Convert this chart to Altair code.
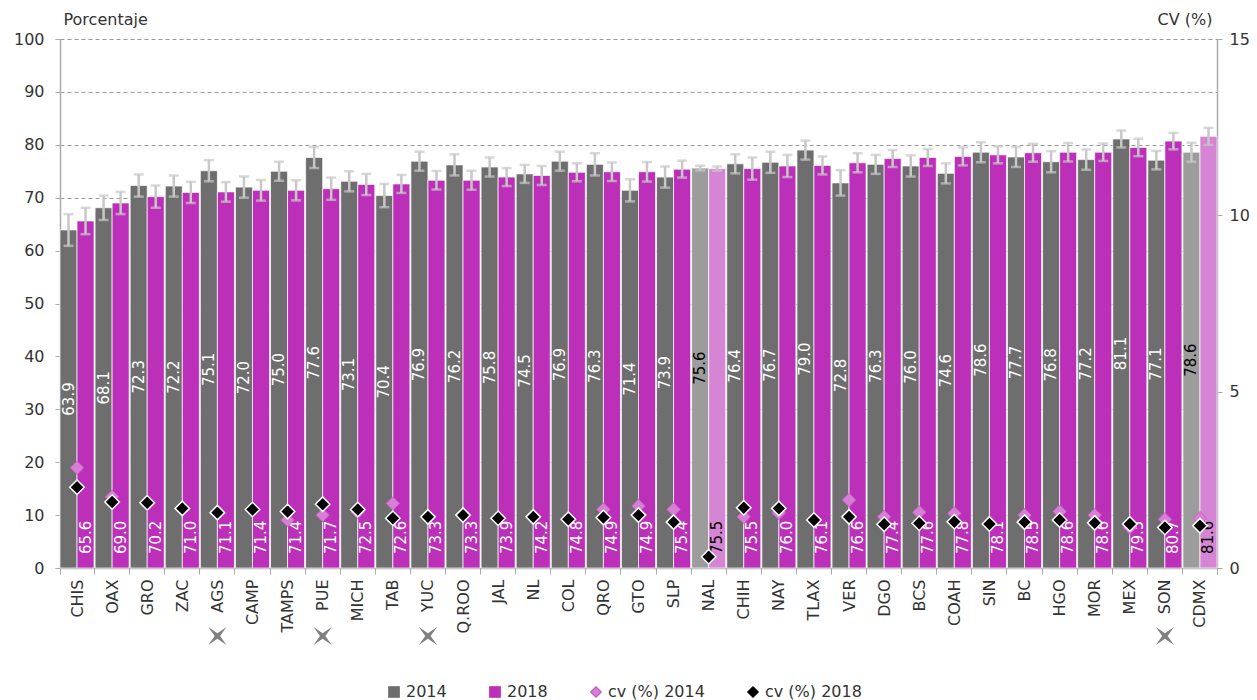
import altair as alt
import pandas as pd

FONT = "DejaVu Sans"

states = ["CHIS", "OAX", "GRO", "ZAC", "AGS", "CAMP", "TAMPS", "PUE", "MICH", "TAB",
          "YUC", "Q.ROO", "JAL", "NL", "COL", "QRO", "GTO", "SLP", "NAL", "CHIH",
          "NAY", "TLAX", "VER", "DGO", "BCS", "COAH", "SIN", "BC", "HGO", "MOR",
          "MEX", "SON", "CDMX"]

v2014 = [63.9, 68.1, 72.3, 72.2, 75.1, 72.0, 75.0, 77.6, 73.1, 70.4,
         76.9, 76.2, 75.8, 74.5, 76.9, 76.3, 71.4, 73.9, 75.6, 76.4,
         76.7, 79.0, 72.8, 76.3, 76.0, 74.6, 78.6, 77.7, 76.8, 77.2,
         81.1, 77.1, 78.6]

v2018 = [65.6, 69.0, 70.2, 71.0, 71.1, 71.4, 71.4, 71.7, 72.5, 72.6,
         73.3, 73.3, 73.9, 74.2, 74.8, 74.9, 74.9, 75.4, 75.5, 75.5,
         76.0, 76.1, 76.6, 77.4, 77.6, 77.8, 78.1, 78.5, 78.6, 78.6,
         79.5, 80.7, 81.6]

# half-width of the error bars
err2014 = [3.0, 2.3, 2.1, 2.0, 2.0, 2.0, 1.8, 2.0, 1.9, 2.2,
           1.8, 2.0, 1.8, 1.7, 1.8, 2.1, 2.1, 2.0, 0.45, 1.8,
           2.0, 1.8, 2.4, 1.8, 2.0, 1.9, 1.9, 1.9, 2.0, 1.9,
           1.6, 1.75, 1.8]

err2018 = [2.5, 2.1, 2.1, 2.0, 1.85, 1.95, 1.9, 2.1, 2.0, 1.7,
           1.75, 1.8, 1.7, 1.8, 1.7, 1.75, 1.85, 1.6, 0.4, 2.1,
           2.1, 1.7, 1.8, 1.6, 1.6, 1.7, 1.6, 1.7, 1.75, 1.65,
           1.65, 1.55, 1.6]

cv2014 = [2.84, 2.02, 1.80, 1.69, 1.57, 1.66, 1.36, 1.50, 1.59, 1.83,
          1.45, 1.50, 1.41, 1.45, 1.38, 1.66, 1.76, 1.66, 0.32, 1.45,
          1.56, 1.38, 1.93, 1.45, 1.58, 1.55, 1.25, 1.50, 1.60, 1.50,
          1.15, 1.38, 1.41]

cv2018 = [2.29, 1.87, 1.85, 1.69, 1.57, 1.66, 1.60, 1.81, 1.66, 1.41,
          1.45, 1.50, 1.41, 1.45, 1.38, 1.43, 1.50, 1.30, 0.32, 1.71,
          1.69, 1.36, 1.45, 1.24, 1.27, 1.31, 1.25, 1.30, 1.36, 1.28,
          1.25, 1.15, 1.20]

highlight = ["NAL", "CDMX"]
flagged = ["AGS", "PUE", "YUC", "SON"]

legend_series = ["2014", "2018", "cv (%) 2014", "cv (%) 2018"]

C_2014 = "#6e6e6e"
C_2018 = "#bc2fb8"
C_2014H = "#9c9c9c"
C_2018H = "#d684d4"
C_CV14 = "#d67fd4"
C_ERR = "#c8c8c8"
C_TXT = "#333333"

rows = []
for i, s in enumerate(states):
    hl = s in highlight
    rows.append(dict(state=s, year="2014", value=v2014[i], err=err2014[i],
                     grupo="2014h" if hl else "2014", lc="black" if hl else "white"))
    rows.append(dict(state=s, year="2018", value=v2018[i], err=err2018[i],
                     grupo="2018h" if hl else "2018", lc="black" if hl else "white"))
bars_df = pd.DataFrame(rows)
cv_df = pd.DataFrame(dict(state=states, cv14=cv2014, cv18=cv2018))
flag_df = pd.DataFrame(dict(state=flagged))
legend_df = pd.DataFrame(dict(serie=legend_series))

x_enc = alt.X("state:N", sort=states,
              scale=alt.Scale(paddingInner=0.03, paddingOuter=0),
              axis=alt.Axis(title=None, labelAngle=270, labelAlign="right",
                            labelBaseline="middle", labelFontSize=16,
                            labelColor=C_TXT, labelPadding=5,
                            tickBand="extent", tickSize=6, tickColor="#aaaaaa",
                            domainColor="#aaaaaa", domainWidth=1.5, grid=False))
xo_enc = alt.XOffset("year:N", sort=["2014", "2018"],
                     scale=alt.Scale(paddingInner=0, paddingOuter=0))

yscale = alt.Scale(domain=[0, 100], nice=False)
YT = "Porcentaje"

base = alt.Chart(bars_df).transform_calculate(
    lo="datum.value - datum.err",
    hi="datum.value + datum.err",
    mid="datum.value / 2",
)

bars = base.mark_bar(stroke="white", strokeWidth=0.7).encode(
    x=x_enc,
    xOffset=xo_enc,
    y=alt.Y("value:Q", scale=yscale, title=YT,
            axis=alt.Axis(orient="left", values=list(range(0, 101, 10)),
                          titleAngle=0, titleX=3, titleY=-20, titleAlign="left",
                          titleBaseline="middle", titleFontSize=16,
                          titleFontWeight="normal", titleColor=C_TXT,
                          labelFontSize=16, labelColor=C_TXT, labelPadding=11,
                          tickSize=5, tickColor="#aaaaaa", domainColor="#aaaaaa",
                          domainWidth=1.5, grid=True, gridDash=[4, 3],
                          gridColor="#9a9a9a", gridWidth=1)),
    color=alt.Color("grupo:N",
                    scale=alt.Scale(domain=["2014", "2018", "2014h", "2018h"],
                                    range=[C_2014, C_2018, C_2014H, C_2018H]),
                    legend=None),
)

err_rule = base.mark_rule(color=C_ERR, strokeWidth=2.5).encode(
    x=x_enc, xOffset=xo_enc,
    y=alt.Y("lo:Q", scale=yscale, title=YT), y2="hi:Q",
)
cap_lo = base.mark_tick(color=C_ERR, thickness=2.5, size=10).encode(
    x=x_enc, xOffset=xo_enc, y=alt.Y("lo:Q", scale=yscale, title=YT))
cap_hi = base.mark_tick(color=C_ERR, thickness=2.5, size=10).encode(
    x=x_enc, xOffset=xo_enc, y=alt.Y("hi:Q", scale=yscale, title=YT))

lab14 = base.transform_filter("datum.year == '2014'").mark_text(
    angle=270, align="center", baseline="middle", fontSize=15, font=FONT
).encode(
    x=x_enc, xOffset=xo_enc,
    y=alt.Y("mid:Q", scale=yscale, title=YT),
    text=alt.Text("value:Q", format=".1f"),
    color=alt.Color("lc:N", scale=None),
)

lab18 = base.transform_filter("datum.year == '2018'").mark_text(
    angle=270, align="left", baseline="middle", fontSize=15, font=FONT, dx=14
).encode(
    x=x_enc, xOffset=xo_enc,
    y=alt.Y(datum=0, type="quantitative", scale=yscale, title=YT),
    text=alt.Text("value:Q", format=".1f"),
    color=alt.Color("lc:N", scale=None),
)

xstar = "M-1,-1L0,-0.3L1,-1L0.3,0L1,1L0,0.3L-1,1L-0.3,0Z"
flags = alt.Chart(flag_df).mark_point(
    shape=xstar, filled=True, color="#808080", size=330, opacity=1, strokeWidth=0
).encode(x=x_enc, y=alt.value(597))

left = alt.layer(bars, err_rule, cap_lo, cap_hi, lab14, lab18, flags)

yscale2 = alt.Scale(domain=[0, 15], nice=False)
YT2 = "CV (%)"
cv_base = alt.Chart(cv_df)
cv14_pts = cv_base.mark_point(
    shape="diamond", filled=True, fill=C_CV14, stroke="#c862c5", strokeWidth=1,
    size=180, opacity=1
).encode(
    x=x_enc,
    y=alt.Y("cv14:Q", scale=yscale2, title=YT2,
            axis=alt.Axis(orient="right", values=[0, 5, 10, 15],
                          titleAngle=0, titleX=-5, titleY=-20, titleAlign="right",
                          titleBaseline="middle", titleFontSize=16,
                          titleFontWeight="normal", titleColor=C_TXT,
                          labelFontSize=16, labelColor=C_TXT, labelPadding=7,
                          tickSize=5, tickColor="#aaaaaa", domainColor="#aaaaaa",
                          domainWidth=1.5, grid=False)),
)
cv18_pts = cv_base.mark_point(
    shape="diamond", filled=True, fill="black", stroke="white", strokeWidth=1.5,
    size=210, opacity=1
).encode(
    x=x_enc,
    y=alt.Y("cv18:Q", scale=yscale2, title=YT2),
)

leg_fill = [C_2014, C_2018, C_CV14, "black"]
leg_stroke = [C_2014, C_2018, "#c455c1", "black"]
leg_shape = ["square", "square", "diamond", "diamond"]
legend_layer = alt.Chart(legend_df).mark_point(filled=True, opacity=1).encode(
    x=alt.value(-500), y=alt.value(-500),
    fill=alt.Fill("serie:N", title=None,
                  scale=alt.Scale(domain=legend_series, range=leg_fill),
                  legend=alt.Legend(orient="none", legendX=326, legendY=645,
                                    direction="horizontal", title=None)),
    stroke=alt.Stroke("serie:N", title=None,
                      scale=alt.Scale(domain=legend_series, range=leg_stroke)),
    shape=alt.Shape("serie:N", title=None,
                    scale=alt.Scale(domain=legend_series, range=leg_shape)),
)

right = alt.layer(cv14_pts, cv18_pts, legend_layer)

chart = alt.layer(left, right).resolve_scale(
    y="independent", fill="independent", stroke="independent", shape="independent"
).properties(
    width=1157, height=529,
    autosize=alt.AutoSizeParams(type="none"),
    padding={"left": 52, "top": 31, "right": 32, "bottom": 134},
).configure(
    font=FONT,
).configure_view(
    stroke=None,
).configure_legend(
    labelFontSize=16, labelColor=C_TXT, labelFont=FONT, symbolSize=110,
    columnPadding=40, labelOffset=4, symbolStrokeWidth=1.2, padding=0,
)

chart.save("out.html", embed_options={"renderer": "svg", "actions": False})
